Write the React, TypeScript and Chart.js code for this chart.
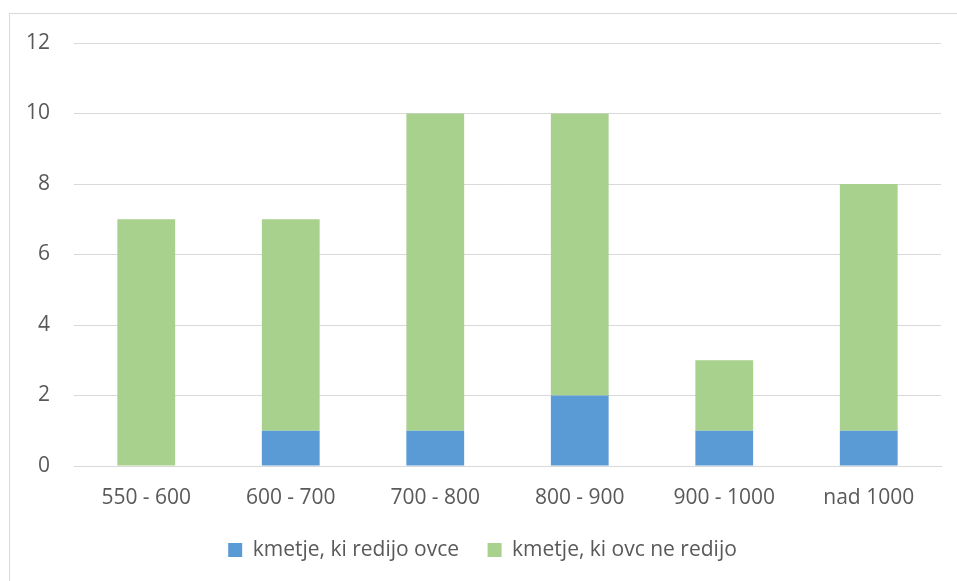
import React, { useEffect, useRef } from "react";
import { Chart, registerables } from "chart.js";

Chart.register(...registerables);

const categories = ["550 - 600", "600 - 700", "700 - 800", "800 - 900", "900 - 1000", "nad 1000"];
const seriesNames = ["kmetje, ki redijo ovce", "kmetje, ki ovc ne redijo"];
const sheepFarmers = [0, 1, 1, 2, 1, 1];
const nonSheepFarmers = [7, 6, 9, 8, 2, 7];
const yTicks = [0, 2, 4, 6, 8, 10, 12];

const BLUE = "#5B9BD5";
const GREEN = "#A9D18E";
const TEXT = "#595959";
const GRID = "#D9D9D9";
const FONT = "'Open Sans', sans-serif";

const legendShift = {
  id: "legendShift",
  afterLayout(chart: any) {
    if (chart.legend) {
      chart.legend.left += 12;
      chart.legend.right += 12;
    }
  },
};

export default function App() {
  const ref = useRef<HTMLCanvasElement | null>(null);

  useEffect(() => {
    if (!ref.current) return;
    const chart = new Chart(ref.current, {
      type: "bar",
      data: {
        labels: categories,
        datasets: [
          { label: seriesNames[0], data: sheepFarmers, backgroundColor: BLUE, borderWidth: 0 },
          { label: seriesNames[1], data: nonSheepFarmers, backgroundColor: GREEN, borderWidth: 0 },
        ],
      },
      plugins: [legendShift],
      options: {
        animation: false,
        responsive: true,
        maintainAspectRatio: false,
        layout: { padding: { left: 0, right: 16, top: 43, bottom: 20 } },
        datasets: { bar: { categoryPercentage: 0.4, barPercentage: 1 } },
        plugins: {
          tooltip: { enabled: false },
          legend: {
            position: "bottom",
            maxHeight: 50,
            labels: {
              boxWidth: 14,
              boxHeight: 14,
              padding: 28.5,
              color: TEXT,
              font: { family: FONT, size: 21 },
            },
          },
        },
        scales: {
          x: {
            stacked: true,
            grid: { display: false, drawTicks: false },
            border: { display: true, color: GRID, width: 1 },
            ticks: { color: TEXT, font: { family: FONT, size: 21 }, padding: 19, maxRotation: 0 },
            afterFit: (scale: any) => {
              scale.height = 45;
            },
          },
          y: {
            stacked: true,
            min: 0,
            max: yTicks[yTicks.length - 1],
            grid: { color: GRID, lineWidth: 1, drawTicks: false },
            border: { display: false },
            afterBuildTicks: (scale: any) => {
              scale.ticks = yTicks.map((v) => ({ value: v }));
            },
            ticks: { color: TEXT, font: { family: FONT, size: 21 }, padding: 24 },
            afterFit: (scale: any) => {
              scale.width = 74;
            },
          },
        },
      },
    });
    return () => chart.destroy();
  }, []);

  return (
    <div style={{ position: "fixed", left: 0, top: 0, width: 957, height: 581, background: "#fff" }}>
      <div
        style={{
          position: "absolute",
          left: 9,
          top: 13,
          width: 948,
          height: 568,
          borderTop: "1px solid " + GRID,
          borderLeft: "1px solid " + GRID,
          boxSizing: "border-box",
        }}
      />
      <div style={{ position: "absolute", left: 0, top: 0, width: 957, height: 581 }}>
        <canvas ref={ref} />
      </div>
    </div>
  );
}
